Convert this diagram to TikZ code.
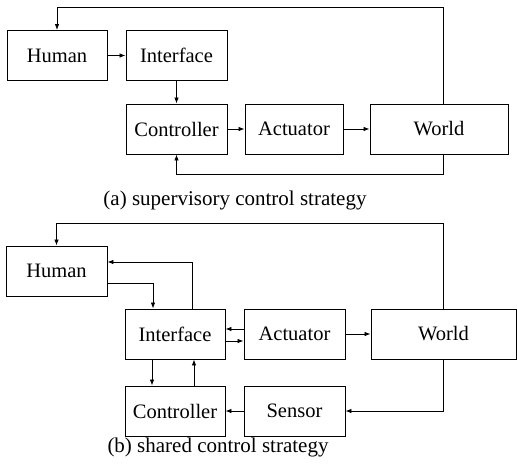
\documentclass[tikz,border=0pt]{standalone}
\usepackage{fontspec}
\setmainfont{Liberation Serif}
\usetikzlibrary{arrows.meta}
\begin{document}
\begin{tikzpicture}[x=1pt,y=-1pt,
		blk/.style={draw,line width=0.9pt,inner sep=0pt,minimum height=50pt,font=\fontsize{20.5}{24}\selectfont},
		arr/.style={-{Latex[length=6pt,width=4.5pt]},line width=0.8pt},
		captxt/.style={font=\fontsize{21}{25}\selectfont}]
		\useasboundingbox (0,0) rectangle (517,469);
		\node[blk,minimum width=100pt] (hum1) at (57,55.5) {Human};
		\node[blk,minimum width=101pt] (int1) at (176.5,55.5) {Interface};
		\node[blk,minimum width=101pt] (con1) at (176.5,129) {Controller};
		\node[blk,minimum width=98pt] (act1) at (294,129) {Actuator};
		\node[blk,minimum width=138pt] (wor1) at (439,129) {World};
		\coordinate (top1) at (0,7);
		\node[captxt] (capa) at (235,200) {(a) supervisory control strategy};
		\draw[arr] (hum1.east) -- (int1.west);
		\draw[arr] (int1.south) -- (con1.north);
		\draw[arr] (con1.east) -- (act1.west);
		\draw[arr] (act1.east) -- (wor1.west);
		\draw[arr] ([xshift=4pt]wor1.north) -- ([xshift=4pt]wor1.north |- top1) -| (hum1.north);
		\draw[arr] ([xshift=4pt]wor1.south) -- ++(0,20) -| (con1.south);
		\node[blk,minimum width=101pt] (hum2) at (56.5,271) {Human};
		\node[blk,minimum width=100pt] (int2) at (175,334) {Interface};
		\node[blk,minimum width=101pt] (act2) at (294.5,334) {Actuator};
		\node[blk,minimum width=145pt] (wor2) at (443.5,334) {World};
		\node[blk,minimum width=100pt] (con2) at (175,411) {Controller};
		\node[blk,minimum width=101pt] (sen2) at (294.5,411) {Sensor};
		\coordinate (top2) at (0,223);
		\node[captxt] (capb) at (218,447) {(b) shared control strategy};
		\draw[arr] (wor2.north) -- (wor2.north |- top2) -| (hum2.north);
		\draw[arr] ([xshift=17pt]int2.north) |- ([yshift=9pt]hum2.east);
		\draw[arr] ([yshift=-12pt]hum2.east) -| ([xshift=-22pt]int2.north);
		\draw[arr] ([yshift=5pt]act2.west) -- ([yshift=5pt]int2.east);
		\draw[arr] ([yshift=-7pt]int2.east) -- ([yshift=-7pt]act2.west);
		\draw[arr] (act2.east) -- (wor2.west);
		\draw[arr] ([xshift=-23pt]int2.south) -- ([xshift=-23pt]con2.north);
		\draw[arr] ([xshift=19pt]con2.north) -- ([xshift=19pt]int2.south);
		\draw[arr] (sen2.west) -- (con2.east);
		\draw[arr] (wor2.south) |- (sen2.east);
	\end{tikzpicture}
\end{document}
